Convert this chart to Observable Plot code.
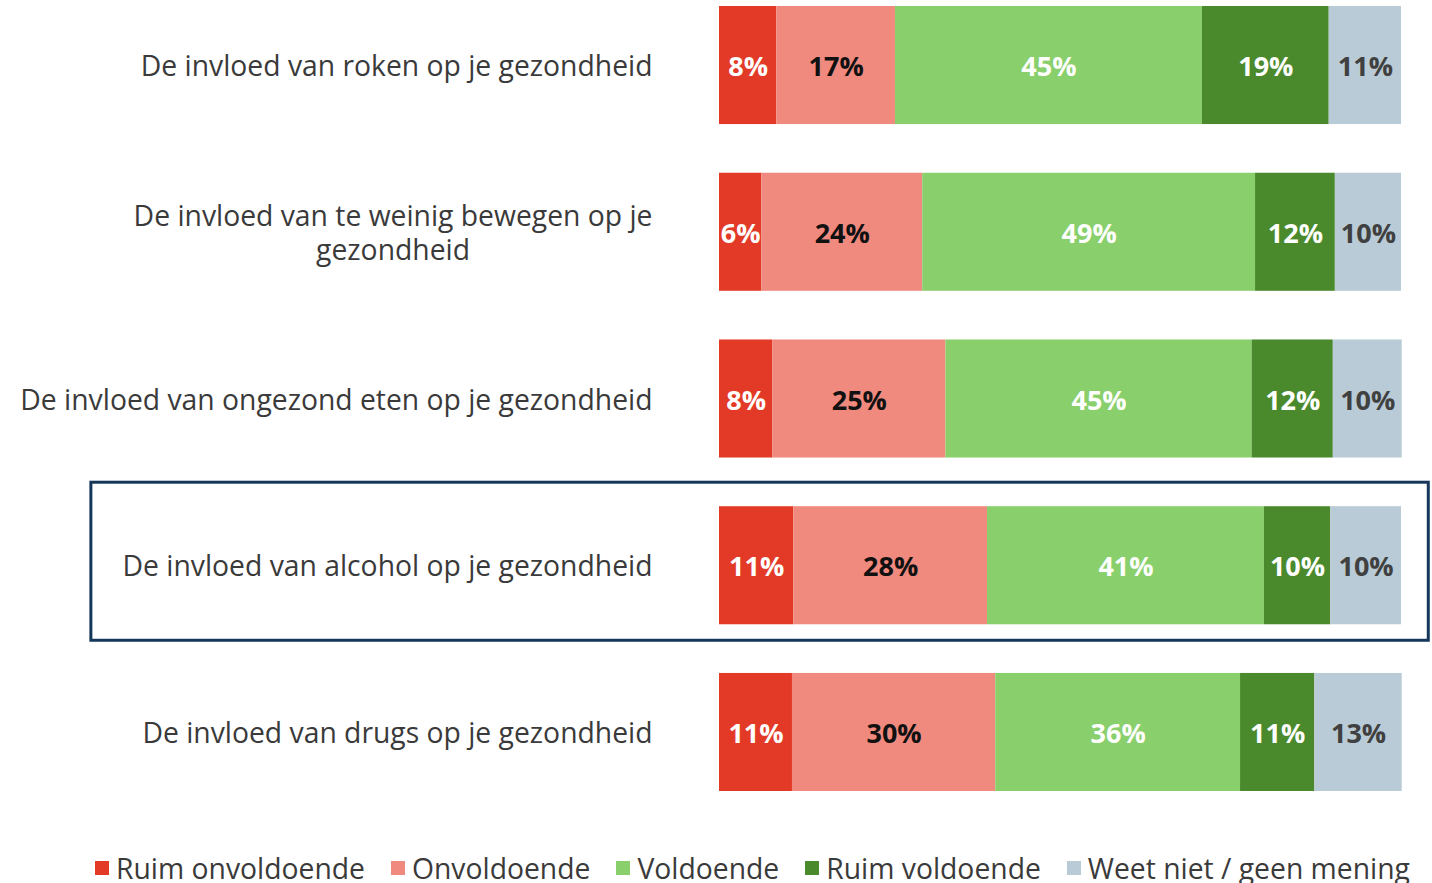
<!DOCTYPE html>
<html>
<head>
<meta charset="utf-8">
<script src="https://cdn.jsdelivr.net/npm/d3@7"></script>
<script src="https://cdn.jsdelivr.net/npm/@observablehq/plot@0.6"></script>
<style>
  body { margin: 0; background: #fff; font-family: "Open Sans", sans-serif; }
  #chart svg { display: block; }
  .legend { display: flex; align-items: center; padding-left: 95px; height: 40px; font-size: 28.3px; color: #3a3a3a; white-space: nowrap; }
  .legend .item { display: flex; align-items: center; margin-right: 26px; }
  .legend .sw { width: 14px; height: 14px; margin-right: 7px; }
</style>
</head>
<body>
<div id="chart"></div>
<div class="legend" id="legend"></div>
<script>
// Rows (labels as shown, line breaks as in the picture)
const rows = [
  "De invloed van roken op je gezondheid",
  "De invloed van te weinig bewegen op je\ngezondheid",
  "De invloed van ongezond eten op je gezondheid",
  "De invloed van alcohol op je gezondheid",
  "De invloed van drugs op je gezondheid"
];
const categories = ["Ruim onvoldoende", "Onvoldoende", "Voldoende", "Ruim voldoende", "Weet niet / geen mening"];
const colors = ["#e23a27", "#f0897e", "#89cf6b", "#4a8a2c", "#b9cbd6"];

// Values per category (percent), one entry per row
const ruimOnvoldoende = [8.4, 6.2, 7.8, 10.9, 10.7];
const onvoldoende     = [17.4, 23.6, 25.4, 28.4, 29.8];
const voldoende       = [45.0, 48.8, 44.9, 40.6, 35.9];
const ruimVoldoende   = [18.6, 11.7, 11.9, 9.7, 10.9];
const weetNiet        = [10.6, 9.7, 10.1, 10.4, 12.8];

const highlighted = ["De invloed van alcohol op je gezondheid"];

const series = [ruimOnvoldoende, onvoldoende, voldoende, ruimVoldoende, weetNiet];
const data = [];
rows.forEach((r, i) => categories.forEach((c, j) => data.push({row: r, cat: c, value: series[j][i]})));

const labelColor = {
  "Ruim onvoldoende": "#ffffff",
  "Onvoldoende": "#111111",
  "Voldoende": "#ffffff",
  "Ruim voldoende": "#ffffff",
  "Weet niet / geen mening": "#404040"
};

const stackOpts = {x: "value", y: "row", z: "cat", order: categories};
// stack all segments first, then keep only one category per text mark
const textMarks = Object.entries(labelColor).map(([cat, col]) =>
  Plot.text(data, Plot.filter(d => d.cat === cat, Plot.stackX({
    ...stackOpts,
    text: d => Math.round(d.value) + "%",
    fill: col,
    fontSize: 27,
    fontWeight: "bold",
    dy: 2
  })))
);

const chart = Plot.plot({
  width: 1432,
  height: 848,
  marginLeft: 719,
  marginRight: 31,
  marginTop: 0,
  marginBottom: 51,
  style: {fontFamily: "'Open Sans', sans-serif", background: "#fff"},
  x: {domain: [0, 100], axis: null},
  y: {domain: rows, axis: null, paddingInner: 0.292, paddingOuter: 0.036, round: false},
  color: {domain: categories, range: colors},
  marks: [
    Plot.barX(highlighted, {
      y: d => d, x1: -92.1, x2: 104.0,
      insetTop: -24, insetBottom: -16,
      fill: "none", stroke: "#15375a", strokeWidth: 3, clip: false
    }),
    Plot.barX(data, Plot.stackX({...stackOpts, fill: "cat"})),
    ...textMarks,
    Plot.text(rows, {
      y: d => d, x: 0, dx: -67, text: d => d,
      textAnchor: "end", fontSize: 28.3, fill: "#3a3a3a",
      lineHeight: 1.18, className: "rowlabel"
    })
  ]
});
document.getElementById("chart").appendChild(chart);

// center multi-line labels against their right edge, as in the original
chart.querySelectorAll(".rowlabel text").forEach(t => {
  if (t.querySelectorAll("tspan").length > 1) {
    const w = t.getBBox().width;
    t.setAttribute("text-anchor", "middle");
    t.setAttribute("transform", (t.getAttribute("transform") || "") + ` translate(${-w / 2},0)`);
  }
});

const legend = document.getElementById("legend");
categories.forEach((c, i) => {
  const item = document.createElement("div");
  item.className = "item";
  item.innerHTML = `<span class="sw" style="background:${colors[i]}"></span><span>${c}</span>`;
  legend.appendChild(item);
});
</script>
</body>
</html>
